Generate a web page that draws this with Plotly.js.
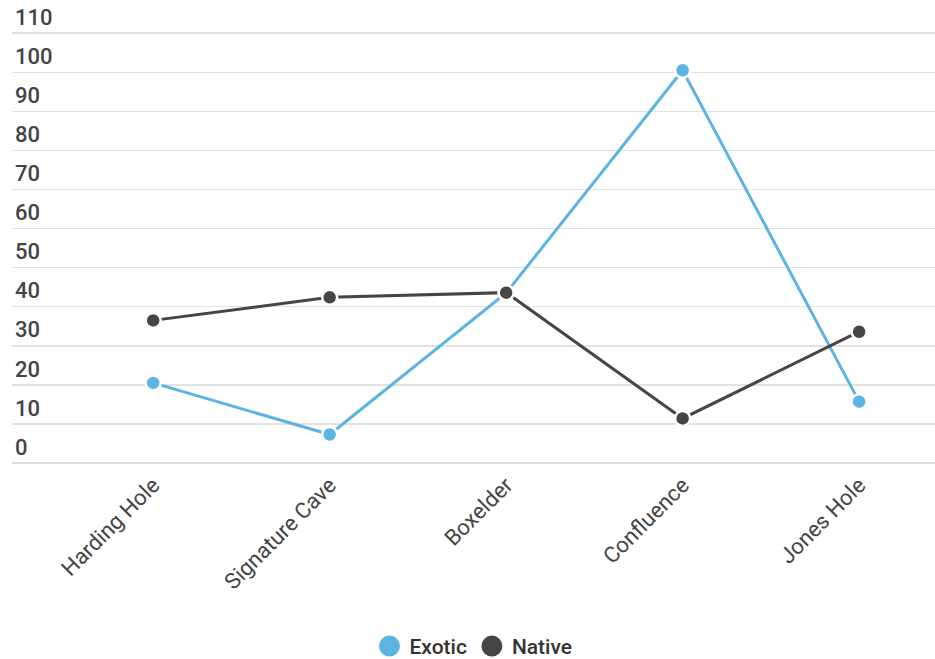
<!DOCTYPE html>
<html>
<head>
<meta charset="utf-8">
<script src="https://cdn.plot.ly/plotly-3.0.1.min.js"></script>
<style>html,body{margin:0;padding:0;background:#fff;}#chart{width:935px;height:659px;}</style>
</head>
<body>
<div id="chart"></div>
<script>
const categories = ["Harding Hole", "Signature Cave", "Boxelder", "Confluence", "Jones Hole"];
const exotic = [20.5, 7.3, 43.5, 100.5, 15.7];
const native = [36.5, 42.4, 43.6, 11.4, 33.6];
const yTicks = [0, 10, 20, 30, 40, 50, 60, 70, 80, 90, 100, 110];

const exoticColor = "#5cb4e3";
const nativeColor = "#454545";

function lineTrace(y, color, name) {
  return {x: categories, y: y, type: "scatter", mode: "lines", name: name,
    line: {color: color, width: 3}, showlegend: false, hoverinfo: "skip"};
}
function markerTrace(y, color, name) {
  return {x: categories, y: y, type: "scatter", mode: "markers", name: name,
    marker: {color: color, size: 15, line: {color: "#ffffff", width: 2.5}}, showlegend: false};
}
function legendTrace(color, name) {
  return {x: [null], y: [null], type: "scatter", mode: "markers", name: name,
    marker: {color: color, size: 16, line: {color: color, width: 5}}, showlegend: true};
}

const data = [
  lineTrace(exotic, exoticColor, "Exotic"),
  lineTrace(native, nativeColor, "Native"),
  markerTrace(exotic, exoticColor, "Exotic"),
  markerTrace(native, nativeColor, "Native"),
  legendTrace(exoticColor, "Exotic"),
  legendTrace(nativeColor, "Native")
];

const layout = {
  width: 935, height: 659,
  margin: {l: 12, r: 0, t: 32, b: 196, autoexpand: false},
  paper_bgcolor: "#ffffff", plot_bgcolor: "#ffffff",
  font: {family: "Roboto, sans-serif", color: "#444"},
  xaxis: {
    type: "category", range: [-0.8, 4.43], automargin: false,
    tickangle: -45, showgrid: false, zeroline: false, showline: false,
    ticks: "", tickfont: {size: 22, color: "#444"}, ticklabelstandoff: 4
  },
  yaxis: {
    range: [0, 110.3], tickvals: yTicks, ticktext: yTicks.map(String), automargin: false,
    showgrid: true, gridcolor: "#e2e2e2", gridwidth: 1.5,
    zeroline: true, zerolinecolor: "#dcdcdc", zerolinewidth: 1.5,
    showline: false, ticks: "",
    ticklabelposition: "inside", ticklabelshift: -16, ticklabelstandoff: 0,
    ticklabeloverflow: "allow",
    tickfont: {size: 22, color: "#444", weight: 500}
  },
  legend: {
    orientation: "h", x: 0.5, xanchor: "center", xref: "paper",
    y: -0.4256, yanchor: "middle",
    font: {size: 21, color: "#333", weight: 500},
    itemwidth: 30
  },
  showlegend: true,
  hovermode: false
};

Plotly.newPlot("chart", data, layout, {displayModeBar: false, staticPlot: true});
</script>
</body>
</html>
